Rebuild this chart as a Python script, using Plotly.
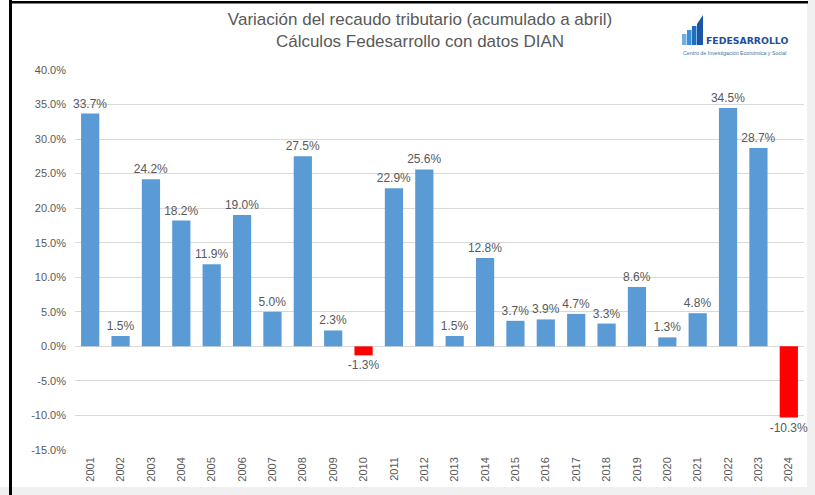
import plotly.graph_objects as go

years = [str(y) for y in range(2001, 2025)]
values = [33.7, 1.5, 24.2, 18.2, 11.9, 19.0, 5.0, 27.5, 2.3, -1.3, 22.9, 25.6,
          1.5, 12.8, 3.7, 3.9, 4.7, 3.3, 8.6, 1.3, 4.8, 34.5, 28.7, -10.3]
tick_vals = [-15, -10, -5, 0, 5, 10, 15, 20, 25, 30, 35, 40]

W, H = 815, 495
L, R, T, B = 75, 11, 70, 45
pw, ph = W - L - R, H - T - B

def px(x):
    return (x - L) / pw

def py(y):
    return (H - B - y) / ph

colors = ["#FF0000" if v < 0 else "#5B9BD5" for v in values]

fig = go.Figure(go.Bar(
    x=years, y=values, marker_color=colors, marker_line_width=0,
    text=[f"{v:.1f}%" for v in values], textposition="outside",
    textfont=dict(color="#595959", size=12, family="Liberation Sans"),
    cliponaxis=False, constraintext="none", hoverinfo="skip",
))

shapes = [
    dict(type="rect", xref="paper", yref="paper", x0=px(807), x1=px(815), y0=py(0), y1=py(495),
         fillcolor="#f0f0f0", line_width=0, layer="below"),
    dict(type="rect", xref="paper", yref="paper", x0=px(0), x1=px(815), y0=py(487), y1=py(495),
         fillcolor="#f0f0f0", line_width=0, layer="below"),
    dict(type="rect", xref="paper", yref="paper", x0=px(9), x1=px(12), y0=py(0), y1=py(495),
         fillcolor="#000000", line_width=0),
    dict(type="rect", xref="paper", yref="paper", x0=px(9), x1=px(808), y0=py(1), y1=py(3.5),
         fillcolor="#000000", line_width=0),
]
# logo bars
logo_bars = [(682, 686.5, 34), (687, 691.5, 30), (692, 696.5, 26)]
logo_cols = ["#6fb0e0", "#3d8fd6", "#1f6fc0"]
for (a, b, top), c in zip(logo_bars, logo_cols):
    shapes.append(dict(type="rect", xref="paper", yref="paper", x0=px(a), x1=px(b),
                       y0=py(45), y1=py(top), fillcolor=c, line_width=0))
shapes.append(dict(type="path", xref="paper", yref="paper",
                   path=f"M {px(697)} {py(45)} L {px(697)} {py(24)} L {px(703)} {py(15)} L {px(703)} {py(45)} Z",
                   fillcolor="#1a55a8", line_width=0))

annotations = [
    dict(text="FEDESARROLLO", xref="paper", yref="paper", x=px(704), y=py(40.5), xanchor="left",
         yanchor="middle", showarrow=False,
         font=dict(family="DejaVu Sans", size=9.3, color="#1f4e9c", weight="bold")),
    dict(text="Centro de Investigación Económica y Social", xref="paper", yref="paper",
         x=px(734), y=py(53), xanchor="center", yanchor="middle", showarrow=False,
         font=dict(family="Liberation Sans", size=5.3, color="#4a6fa5")),
]

fig.update_layout(
    width=W, height=H,
    margin=dict(l=L, r=R, t=T, b=B),
    paper_bgcolor="white", plot_bgcolor="white",
    title=dict(text="Variación del recaudo tributario (acumulado a abril)<br>Cálculos Fedesarrollo con datos DIAN",
               x=420 / W, xanchor="center", y=1 - 25 / H, yanchor="middle",
               font=dict(family="Liberation Sans", size=17, color="#595959")),
    bargap=0.4,
    showlegend=False,
    hovermode=False,
    shapes=shapes,
    annotations=annotations,
    xaxis=dict(type="category", tickangle=-90, tickfont=dict(family="Liberation Sans", size=11, color="#595959"),
               showgrid=False, showline=False, ticks="", ticklabelstandoff=4),
    yaxis=dict(range=[-15, 40], tickvals=tick_vals, ticktext=[f"{v:.1f}%" for v in tick_vals],
               tickfont=dict(family="Liberation Sans", size=11, color="#595959"),
               showgrid=True, gridcolor="#d9d9d9", gridwidth=1, ticklabelstandoff=8,
               zeroline=True, zerolinecolor="#d9d9d9", zerolinewidth=1, ticks=""),
)

fig.write_html("out.html", config={"displayModeBar": False},
               post_script="document.body.style.margin='0';")
